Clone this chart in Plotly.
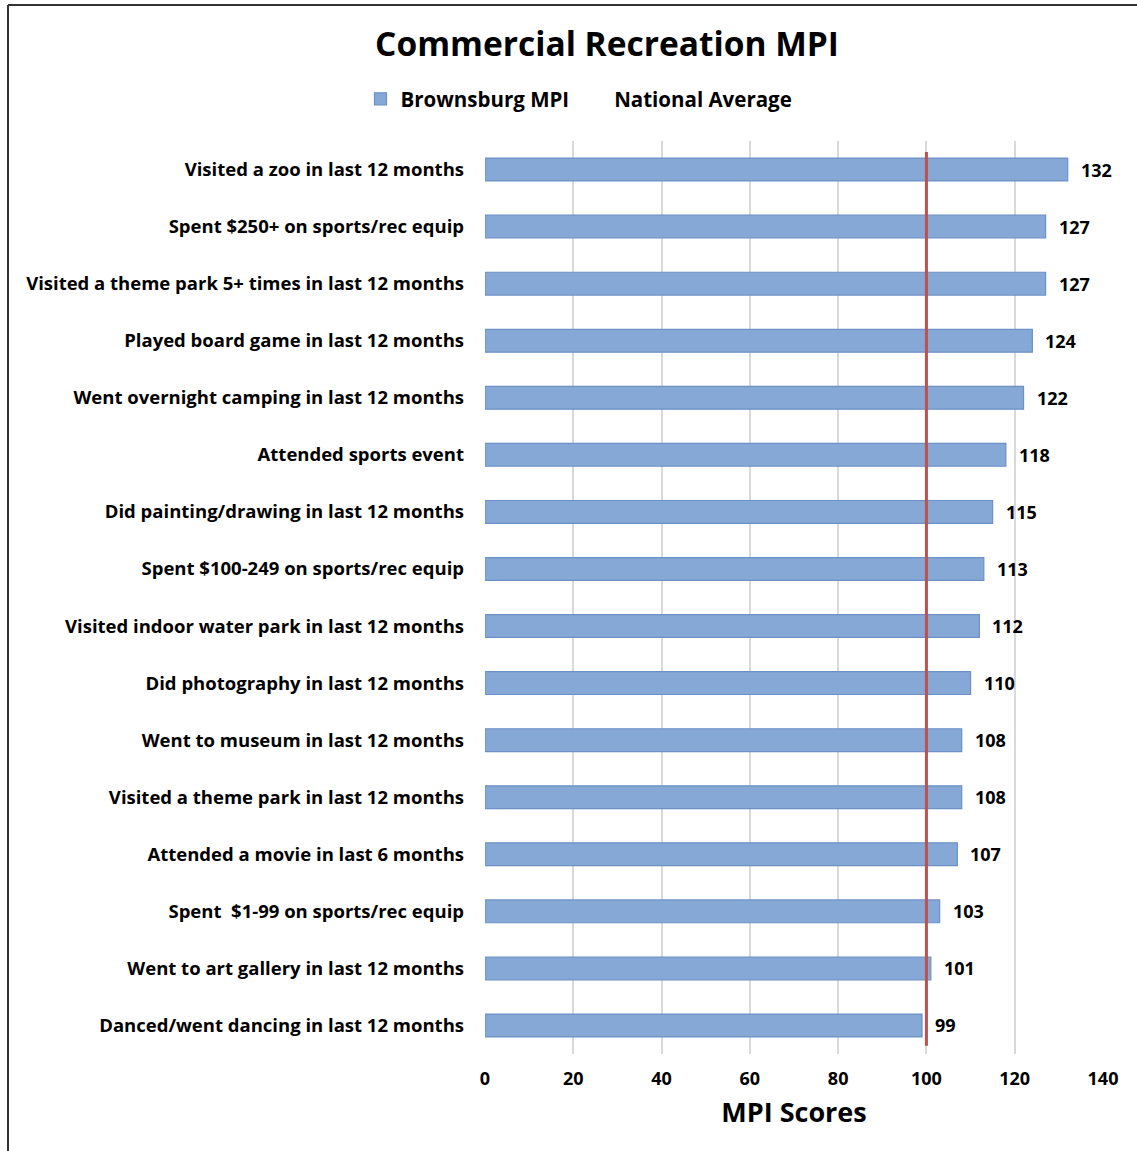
import plotly.graph_objects as go

categories = [
    "Visited a zoo in last 12 months",
    "Spent $250+ on sports/rec equip",
    "Visited a theme park 5+ times in last 12 months",
    "Played board game in last 12 months",
    "Went overnight camping in last 12 months",
    "Attended sports event",
    "Did painting/drawing in last 12 months",
    "Spent $100-249 on sports/rec equip",
    "Visited indoor water park in last 12 months",
    "Did photography in last 12 months",
    "Went to museum in last 12 months",
    "Visited a theme park in last 12 months",
    "Attended a movie in last 6 months",
    "Spent  $1-99 on sports/rec equip",
    "Went to art gallery in last 12 months",
    "Danced/went dancing in last 12 months",
]
mpi_values = [132, 127, 127, 124, 122, 118, 115, 113, 112, 110, 108, 108, 107, 103, 101, 99]
national_average = 100
x_ticks = [0, 20, 40, 60, 80, 100, 120, 140]

W, H = 1137, 1151
L, R, T, B = 485, 34, 141, 97
pw, ph = W - L - R, H - T - B

FONT = "Open Sans"

def bold(size):
    return dict(family=FONT, size=size, color="#000", weight="bold")

fig = go.Figure()
fig.add_trace(go.Bar(
    y=categories, x=mpi_values, orientation="h", name="Brownsburg MPI",
    marker=dict(color="#86A8D6", line=dict(color="#6C91C6", width=1.2)),
    width=0.4,
))
fig.add_trace(go.Scatter(
    x=[None], y=[None], mode="lines", name="National Average",
    line=dict(color="rgba(0,0,0,0)", width=2),
))

# National average red line
fig.add_shape(type="line", xref="x", yref="paper",
              x0=national_average, x1=national_average, y0=0.009, y1=0.988,
              line=dict(color="#C0504D", width=3), layer="above")

# Data labels
for c, v in zip(categories, mpi_values):
    fig.add_annotation(x=v, y=c, text=str(v), showarrow=False,
                       xanchor="left", xshift=11, font=bold(18))

def px_x(p):
    return (p - L) / pw
def px_y(p):
    return 1 - (p - T) / ph

# Outer frame (left and top edges)
fig.add_shape(type="line", xref="paper", yref="paper",
              x0=px_x(8), x1=px_x(8), y0=px_y(5), y1=px_y(1200),
              line=dict(color="#333333", width=2))
fig.add_shape(type="line", xref="paper", yref="paper",
              x0=px_x(8), x1=px_x(1200), y0=px_y(5), y1=px_y(5),
              line=dict(color="#333333", width=2))

fig.update_layout(
    width=W, height=H,
    margin=dict(l=L, r=R, t=T, b=B, autoexpand=False),
    paper_bgcolor="white", plot_bgcolor="white",
    title=dict(text="Commercial Recreation MPI", xref="container", x=607 / W, xanchor="center",
               yref="container", y=1 - 44 / H, yanchor="middle", font=bold(33.5)),
    legend=dict(orientation="h", x=px_x(579), xanchor="center", y=px_y(99), yanchor="middle",
                font=bold(20.5), itemwidth=30, traceorder="normal"),
    showlegend=True,
)
fig.update_xaxes(range=[0, 140], tickvals=x_ticks, showgrid=True, gridcolor="#D9D9D9",
                 gridwidth=1.5, zeroline=False, showline=False, tickfont=bold(18),
                 title=dict(text="MPI Scores", font=bold(27), standoff=14),
                 ticks="", ticklabelstandoff=12)
fig.update_yaxes(autorange="reversed", showgrid=False, showline=False, ticks="",
                 tickfont=bold(18.5), ticklabelstandoff=20)

fig.write_html("out.html", config={"displayModeBar": False},
               post_script="document.body.style.margin='0';")
